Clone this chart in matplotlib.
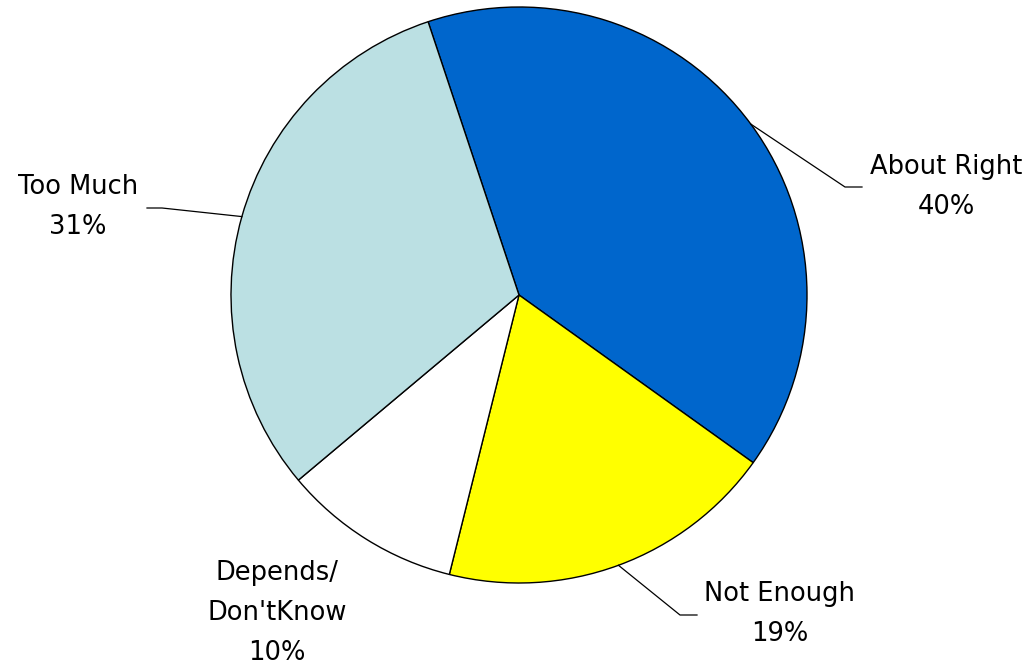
import matplotlib.pyplot as plt
import numpy as np

labels = ["About Right", "Not Enough", "Depends/\nDon'tKnow", "Too Much"]
values = [40, 19, 10, 31]
colors = ["#0066CC", "#FFFF00", "#FFFFFF", "#BBE0E3"]

W, H = 1030, 668
fig = plt.figure(figsize=(W / 100, H / 100), dpi=100)
ax = fig.add_axes([0, 0, 1, 1])

cx, cy, r = 519, H - 295, 288
wedges, _ = ax.pie(values, colors=colors, startangle=108.4, counterclock=False,
                   center=(cx, cy), radius=r, frame=True,
                   wedgeprops=dict(edgecolor="black", linewidth=1))
ax.set_xlim(0, W)
ax.set_ylim(0, H)
ax.set_aspect("equal")
ax.axis("off")

# text centre, elbow point, end of horizontal tick (pixel layout, y from top)
layout = {
    "About Right": ((946, 187), (845, 187), (862, 187)),
    "Not Enough": ((780, 614), (680, 615), (697, 615)),
    "Depends/\nDon'tKnow": ((277, 613), None, None),
    "Too Much": ((78, 207), (162, 208), (147, 208)),
}

for w, lab, v in zip(wedges, labels, values):
    (tx, ty), elbow, end = layout[lab]
    ax.text(tx, H - ty, f"{lab}\n{v}%", ha="center", va="center",
            fontsize=18.5, linespacing=1.72, family="DejaVu Sans")
    if elbow is not None:
        mid = np.deg2rad((w.theta1 + w.theta2) / 2)
        x0, y0 = cx + r * np.cos(mid), cy + r * np.sin(mid)
        ax.plot([x0, elbow[0], end[0]], [y0, H - elbow[1], H - end[1]],
                color="black", linewidth=0.9)

fig.savefig("out.png", dpi=100)
